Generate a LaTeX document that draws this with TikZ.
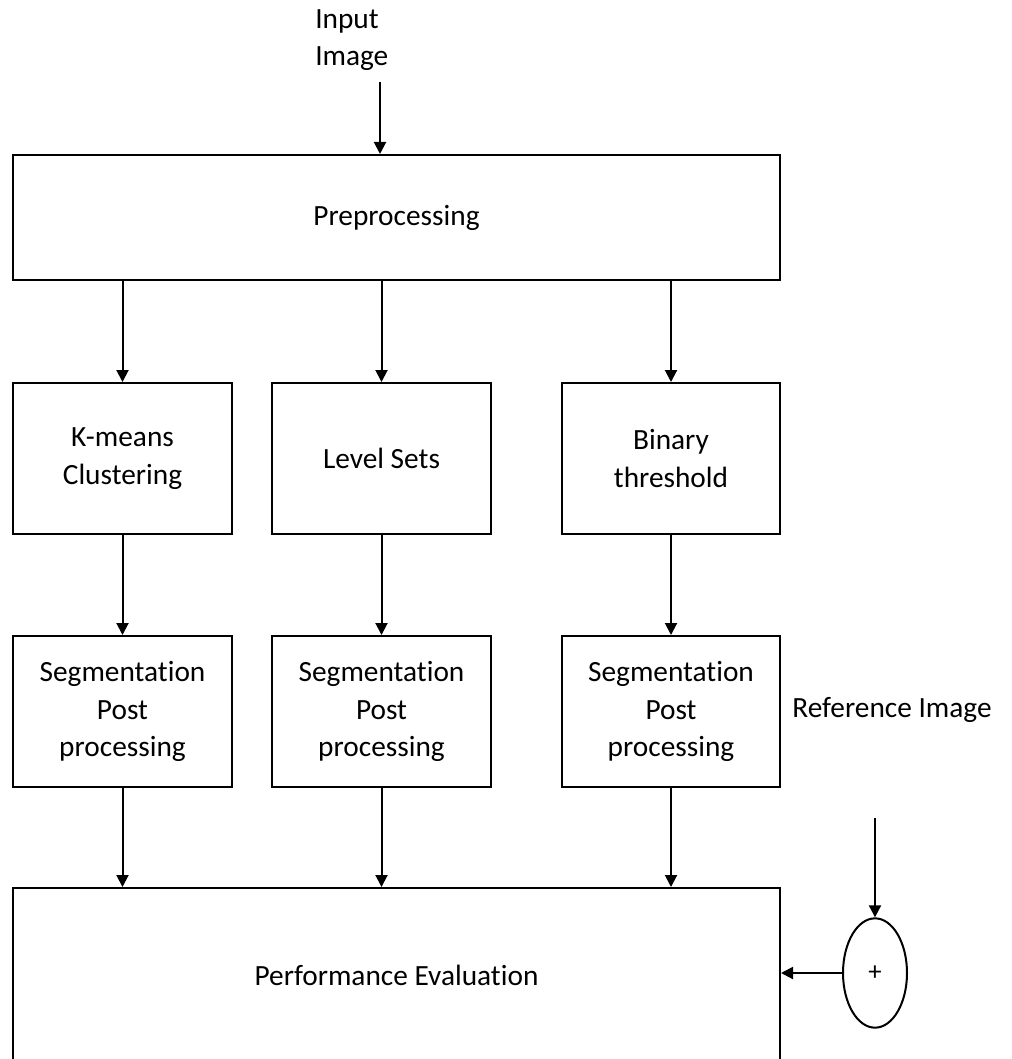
\documentclass[tikz,border=0pt]{standalone}
\usepackage{fontspec}
\setmainfont{Carlito}[Ligatures={NoCommon}]
\usetikzlibrary{arrows.meta,shapes.geometric}
\begin{document}
\begin{tikzpicture}[x=0.75pt,y=-0.75pt,
  txt/.style={font=\fontsize{22}{28}\selectfont, inner sep=0pt, align=center},
  box/.style={txt, draw, line width=1.5pt},
  arr/.style={-{Triangle[length=9pt,width=9pt]}, line width=1.5pt}]
\useasboundingbox (0,0) rectangle (1011,1059);
\clip (0,0) rectangle (1011,1059);
% top label
\node[txt, align=left, anchor=north west] (input) at (315,9) {Input\\Image};
\coordinate (inTop) at (380,82);
% preprocessing
\node[box, minimum width=575.25pt, minimum height=93.75pt] (pre) at (396.5,217.5) {Preprocessing};
% row 2
\node[box, minimum width=164.25pt, minimum height=113.25pt] (km) at (122.5,458.5) {K-means\\Clustering};
\node[box, minimum width=164.25pt, minimum height=113.25pt] (ls) at (381.5,458.5) {Level Sets};
\node[box, minimum width=163.5pt, minimum height=113.25pt] (bt) at (671,458.5) {Binary\\threshold};
% row 3
\node[box, minimum width=164.25pt, minimum height=113.25pt] (s1) at (122.5,711.5) {Segmentation\\Post\\processing};
\node[box, minimum width=164.25pt, minimum height=113.25pt] (s2) at (381.5,711.5) {Segmentation\\Post\\processing};
\node[box, minimum width=163.5pt, minimum height=113.25pt] (s3) at (671,711.5) {Segmentation\\Post\\processing};
% performance
\node[box, minimum width=575.25pt, minimum height=130.5pt] (perf) at (396.5,975) {Performance Evaluation};
% reference
\node[txt] (ref) at (892,710) {Reference Image};
\coordinate (refTop) at (875,818);
\node[draw, ellipse, line width=1.5pt, minimum width=48pt, minimum height=82pt, inner sep=0pt, font=\fontsize{20}{22}\selectfont] (plus) at (875,973) {+};
% connectors
\draw[arr] (inTop) -- (inTop |- pre.north);
\draw[arr] (km.north |- pre.south) -- (km.north);
\draw[arr] (ls.north |- pre.south) -- (ls.north);
\draw[arr] (bt.north |- pre.south) -- (bt.north);
\draw[arr] (km.south) -- (s1.north);
\draw[arr] (ls.south) -- (s2.north);
\draw[arr] (bt.south) -- (s3.north);
\draw[arr] (s1.south) -- (s1.south |- perf.north);
\draw[arr] (s2.south) -- (s2.south |- perf.north);
\draw[arr] (s3.south) -- (s3.south |- perf.north);
\draw[arr] (refTop) -- (plus.north);
\draw[arr] (plus.west) -- (plus.west -| perf.east);
\end{tikzpicture}
\end{document}
